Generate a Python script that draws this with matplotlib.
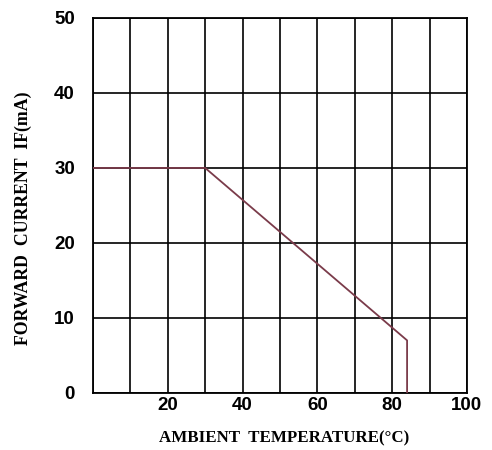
import matplotlib
matplotlib.use("Agg")
import matplotlib.pyplot as plt

# derating curve: forward current vs ambient temperature
temp = [0, 30, 84, 84]
current = [30, 30, 7, 0]

x_ticks = [20, 40, 60, 80, 100]
y_ticks = [0, 10, 20, 30, 40, 50]

fig = plt.figure(figsize=(4.92, 4.5), dpi=100)
ax = fig.add_axes([0.189, 0.127, 0.760, 0.833])

ax.plot(temp, current, color="#7a3b4a", lw=1.3, zorder=3)

ax.set_xlim(0, 100)
ax.set_ylim(0, 50)
ax.set_yticks(y_ticks)
ax.set_xticks(range(0, 101, 10))
ax.grid(True, color="black", lw=1.2)
ax.set_xticklabels([str(v) if v in x_ticks else "" for v in range(0, 101, 10)])
ax.set_yticklabels([str(v) for v in y_ticks])
ax.tick_params(length=0)
ax.tick_params(axis="x", pad=3)
ax.tick_params(axis="y", pad=13)
for lbl in ax.get_xticklabels() + ax.get_yticklabels():
    lbl.set_fontfamily("Liberation Sans")
    lbl.set_fontweight("bold")
    lbl.set_fontsize(13.5)
for s in ax.spines.values():
    s.set_linewidth(1.3)

ax.set_xlabel("AMBIENT  TEMPERATURE(°C)", family="Liberation Serif",
              fontweight="bold", fontsize=12.2, va="center")
ax.xaxis.set_label_coords(0.512, -0.122)
ax.set_ylabel("FORWARD  CURRENT  IF(mA)", family="Liberation Serif",
              fontweight="bold", fontsize=12.8, va="center")
ax.yaxis.set_label_coords(-0.185, 0.467)

fig.savefig("out.png", dpi=100)
